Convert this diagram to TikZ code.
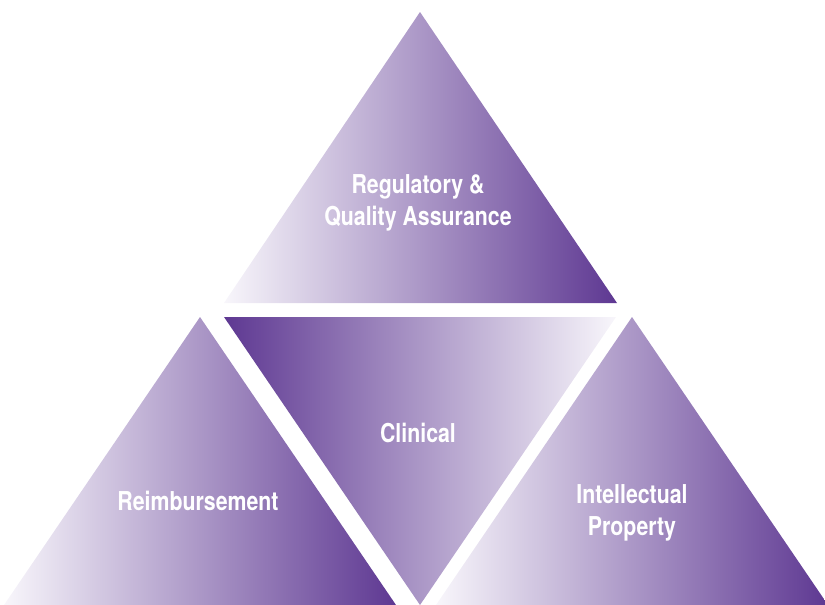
\documentclass[tikz,border=0pt]{standalone}
\usepackage{fontspec}
\setmainfont{TeX Gyre Heros}[FakeStretch=0.82]
\usepackage{tikz}
\definecolor{pyrPurple}{RGB}{94, 56, 146}
\definecolor{pyrLight}{RGB}{248, 246, 251}

\begin{document}
\begin{tikzpicture}[x=1pt, y=-1pt,
  fadeRight/.style={left color=pyrLight, right color=pyrPurple},
  fadeLeft/.style={left color=pyrPurple, right color=pyrLight},
  pyrtext/.style={text=white, align=center,
                  font=\fontsize{26}{31.5}\selectfont\bfseries},
]
  \useasboundingbox (0,0) rectangle (825,605);

  \shade[fadeRight] (420,12) -- (617,303) -- (224,303) -- cycle;
  \shade[fadeLeft] (224,317) -- (616,317) -- (420,605) -- cycle;
  \shade[fadeRight] (200,317) -- (396,605) -- (4,605) -- cycle;
  \shade[fadeRight] (632,317) -- (828,605) -- (436,605) -- cycle;

  \node[pyrtext] (reg) at (418,203) {Regulatory \&\\Quality Assurance};
  \node[pyrtext] (clin) at (418,433) {Clinical};
  \node[pyrtext] (reimb) at (198,501) {Reimbursement};
  \node[pyrtext] (ip) at (632,513) {Intellectual\\Property};
\end{tikzpicture}
\end{document}
